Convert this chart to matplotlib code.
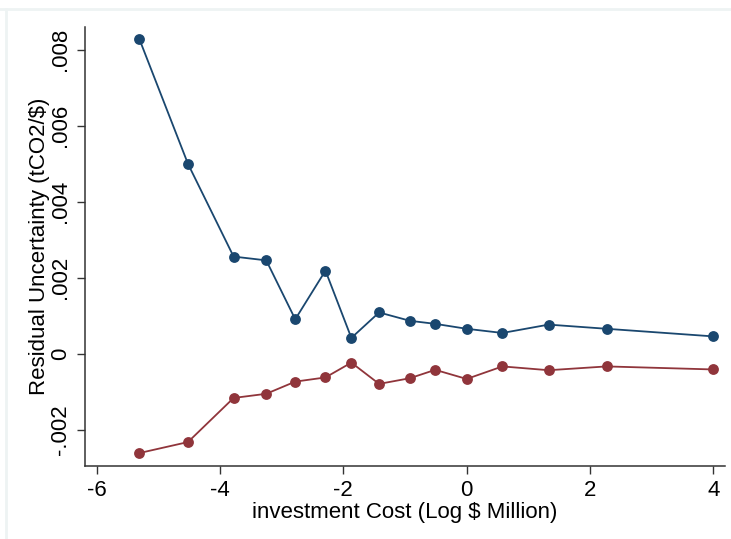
import matplotlib
matplotlib.use("Agg")
import matplotlib.pyplot as plt
from matplotlib.lines import Line2D

plt.rcParams['font.family'] = ['Liberation Sans', 'DejaVu Sans']

# Binned investment cost (log $ million)
log_cost = [-5.31, -4.52, -3.78, -3.25, -2.78, -2.29, -1.87, -1.42,
            -0.92, -0.51, 0.00, 0.58, 1.33, 2.27, 4.00]
# Upper and lower residual uncertainty (tCO2/$)
upper = [0.00829, 0.00500, 0.00256, 0.00246, 0.00091, 0.00219, 0.00042, 0.00109,
         0.00087, 0.00079, 0.00066, 0.00055, 0.00077, 0.00066, 0.00046]
lower = [-0.00261, -0.00232, -0.00116, -0.00105, -0.00073, -0.00062, -0.00023, -0.00079,
         -0.00064, -0.00042, -0.00066, -0.00033, -0.00043, -0.00033, -0.00041]

xticks = [-6, -4, -2, 0, 2, 4]
yticks = [-0.002, 0, 0.002, 0.004, 0.006, 0.008]
ytick_labels = ['-.002', '0', '.002', '.004', '.006', '.008']

navy = '#1a476f'
maroon = '#90353b'

fig = plt.figure(figsize=(7.31, 5.39), dpi=100)
fig.patch.set_facecolor('white')
ax = fig.add_axes([85 / 731, 73 / 539, 640 / 731, 439 / 539])

ax.plot(log_cost, upper, '-o', color=navy, lw=1.3, ms=7.8, mew=0)
ax.plot(log_cost, lower, '-o', color=maroon, lw=1.3, ms=7.8, mew=0)

ax.set_xlim(-6.19, 4.19)
ax.set_ylim(-0.00295, 0.00860)
ax.set_xticks(xticks)
ax.set_xticklabels([str(t) for t in xticks])
ax.set_yticks(yticks)
ax.set_yticklabels(ytick_labels, rotation=90, va='center')

for side in ('top', 'right'):
    ax.spines[side].set_visible(False)
for side in ('left', 'bottom'):
    ax.spines[side].set_color('#333333')
    ax.spines[side].set_linewidth(1.1)

ax.tick_params(axis='both', direction='out', length=6, width=1.0,
               color='#333333', labelsize=16, pad=4)
ax.set_xlabel('investment Cost (Log $ Million)', fontsize=16, labelpad=1)
ax.set_ylabel('Residual Uncertainty (tCO2/$)', fontsize=16, labelpad=0)

# faint outer frame strips along top and left edges
fig.add_artist(Line2D([0, 1], [1 - 9 / 539, 1 - 9 / 539], transform=fig.transFigure,
                      color='#eef3f3', lw=2))
fig.add_artist(Line2D([6 / 731, 6 / 731], [0, 1 - 9 / 539], transform=fig.transFigure,
                      color='#eef3f3', lw=2))

fig.savefig('out.png', dpi=100)
